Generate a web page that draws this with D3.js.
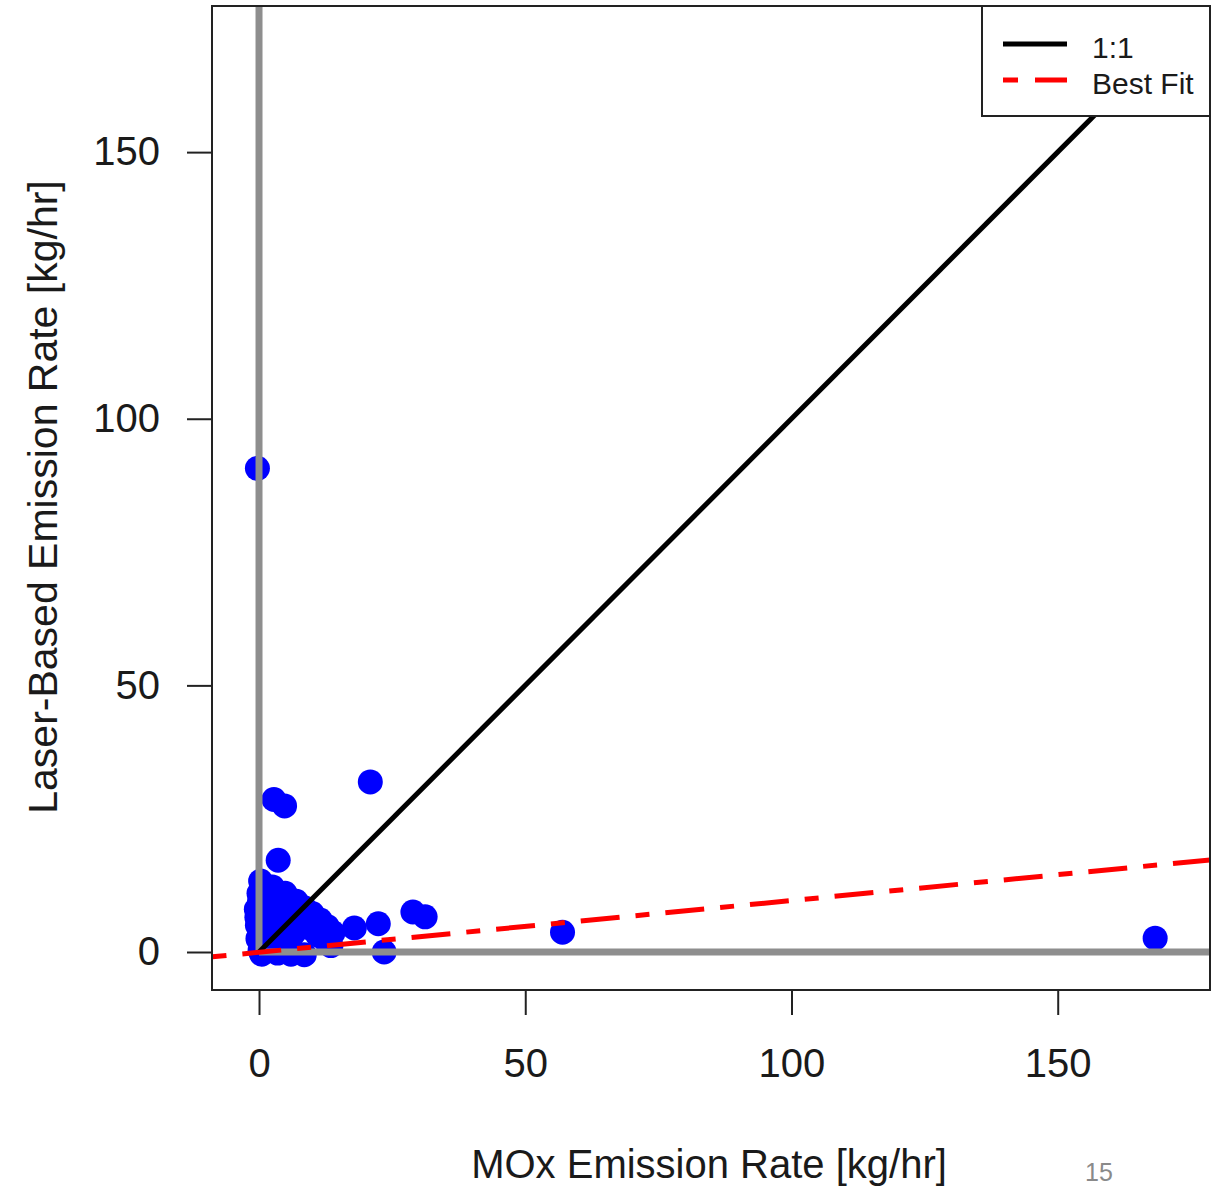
<!DOCTYPE html>
<html>
<head>
<meta charset="utf-8">
<script src="https://cdn.jsdelivr.net/npm/d3@7"></script>
<style>
  html, body { margin: 0; padding: 0; background: #fff; }
  svg { display: block; }
  text { font-family: "Liberation Sans", Arial, sans-serif; fill: #1a1a1a; }
</style>
</head>
<body>
<svg id="chart" width="1220" height="1187"></svg>
<script>
// MOx vs laser-based emission rates (kg/hr)
const moxRate = [
  -0.3, 20.9, 2.8, 4.8, 3.6, 17.9, 22.4, 28.9, 31.2, 23.5, 57.0, 168.3,
  -0.5, -0.3, 0.0, 0.3, -0.2, 0.2, -0.4, 0.1,
  2.5, 4.9, 7.0, 8.5, 10.0, 11.5, 12.8, 13.9,
  2.0, 3.0, 5.0, 2.5, 5.0, 7.5, 4.0, 6.5, 9.5, 11.0, 2.0, 4.5, 1.0, 3.5,
  6.0, 8.5, 12.5, 13.5, 0.5, 3.0
];
const laserRate = [
  90.7, 31.9, 28.6, 27.4, 17.2, 4.5, 5.3, 7.5, 6.6, 0.0, 3.7, 2.6,
  8.0, 5.0, 11.0, 13.3, 2.5, 0.3, 6.5, 9.5,
  12.2, 11.0, 9.5, 8.3, 7.2, 6.0, 4.8, 3.6,
  9.0, 7.0, 8.0, 4.5, 5.5, 6.0, 3.0, 3.5, 4.5, 3.2, 1.5, 1.0, 0.0, -0.2,
  -0.4, -0.5, 2.2, 1.2, -0.4, 0.2
];

const xTicks = [0, 50, 100, 150];
const yTicks = [0, 50, 100, 150];

// Regression line: laser = slope * mox + intercept
const fitSlope = 0.097;
const fitIntercept = -0.05;

const legendItems = ["1:1", "Best Fit"];

const svg = d3.select("#chart");
const box = { left: 212, right: 1210, top: 6, bottom: 990 };

const x = d3.scaleLinear().domain([-8.83, 178.6]).range([box.left, box.right]);
const y = d3.scaleLinear().domain([-7.125, 177.4]).range([box.bottom, box.top]);

const plot = svg.append("g");
svg.append("clipPath").attr("id", "plotclip")
  .append("rect")
  .attr("x", box.left).attr("y", box.top)
  .attr("width", box.right - box.left).attr("height", box.bottom - box.top);

const inner = plot.append("g").attr("clip-path", "url(#plotclip)");

// scatter points
inner.selectAll("circle.pt")
  .data(d3.range(moxRate.length))
  .join("circle")
  .attr("class", "pt")
  .attr("cx", i => x(moxRate[i]))
  .attr("cy", i => y(laserRate[i]))
  .attr("r", 12.5)
  .attr("fill", "#0000ff");

// reference axes through zero
const [xMin, xMax] = x.domain();
const [yMin, yMax] = y.domain();
inner.append("line")
  .attr("x1", x(0)).attr("x2", x(0))
  .attr("y1", y(0)).attr("y2", y(yMax))
  .attr("stroke", "#8e8e8e").attr("stroke-width", 7);
inner.append("line")
  .attr("x1", x(0)).attr("x2", x(xMax))
  .attr("y1", y(0)).attr("y2", y(0))
  .attr("stroke", "#8e8e8e").attr("stroke-width", 7);

// 1:1 line
inner.append("line")
  .attr("x1", x(0)).attr("y1", y(0))
  .attr("x2", x(yMax)).attr("y2", y(yMax))
  .attr("stroke", "#000").attr("stroke-width", 5);

// best fit line
inner.append("line")
  .attr("x1", x(xMin)).attr("y1", y(fitSlope * xMin + fitIntercept))
  .attr("x2", x(xMax)).attr("y2", y(fitSlope * xMax + fitIntercept))
  .attr("stroke", "#ff0000").attr("stroke-width", 5)
  .attr("stroke-dasharray", "39,16,14,16")
  .attr("stroke-dashoffset", 54.5);

// frame
svg.append("rect")
  .attr("x", box.left).attr("y", box.top)
  .attr("width", box.right - box.left).attr("height", box.bottom - box.top)
  .attr("fill", "none").attr("stroke", "#222").attr("stroke-width", 2);

// axes
const xAxis = d3.axisBottom(x).tickValues(xTicks).tickSize(25).tickPadding(34).tickSizeOuter(0);
const gx = svg.append("g").attr("transform", `translate(0,${box.bottom})`).call(xAxis);
gx.select(".domain").remove();
gx.selectAll(".tick line").attr("stroke", "#222").attr("stroke-width", 2);
gx.selectAll(".tick text")
  .style("font-size", "40px")
  .style("font-family", "'Liberation Sans', Arial, sans-serif")
  .attr("fill", "#1a1a1a");

const yAxis = d3.axisLeft(y).tickValues(yTicks).tickSize(25).tickPadding(27).tickSizeOuter(0);
const gy = svg.append("g").attr("transform", `translate(${box.left},0)`).call(yAxis);
gy.select(".domain").remove();
gy.selectAll(".tick line").attr("stroke", "#222").attr("stroke-width", 2);
gy.selectAll(".tick text")
  .style("font-size", "40px")
  .style("font-family", "'Liberation Sans', Arial, sans-serif")
  .attr("fill", "#1a1a1a");

// axis titles
svg.append("text")
  .attr("x", 709).attr("y", 1178)
  .attr("text-anchor", "middle")
  .style("font-size", "40px")
  .text("MOx Emission Rate [kg/hr]");

svg.append("text")
  .attr("transform", "translate(57,497) rotate(-90)")
  .attr("text-anchor", "middle")
  .style("font-size", "41px")
  .text("Laser-Based Emission Rate [kg/hr]");

// legend
const lg = svg.append("g");
lg.append("rect")
  .attr("x", 982).attr("y", box.top)
  .attr("width", box.right - 982).attr("height", 110)
  .attr("fill", "#fff").attr("stroke", "#222").attr("stroke-width", 2);
lg.append("line")
  .attr("x1", 1003).attr("x2", 1067).attr("y1", 44).attr("y2", 44)
  .attr("stroke", "#000").attr("stroke-width", 5);
lg.append("line")
  .attr("x1", 1003).attr("x2", 1067).attr("y1", 80).attr("y2", 80)
  .attr("stroke", "#ff0000").attr("stroke-width", 5)
  .attr("stroke-dasharray", "15,17,32,17");
lg.selectAll("text.leg")
  .data(legendItems)
  .join("text")
  .attr("class", "leg")
  .attr("x", 1092)
  .attr("y", (d, i) => 58 + i * 36)
  .style("font-size", "30px")
  .text(d => d);

// page number
svg.append("text")
  .attr("x", 1099).attr("y", 1181)
  .attr("text-anchor", "middle")
  .style("font-size", "25px")
  .style("fill", "#8a8a8a")
  .text("15");
</script>
</body>
</html>
